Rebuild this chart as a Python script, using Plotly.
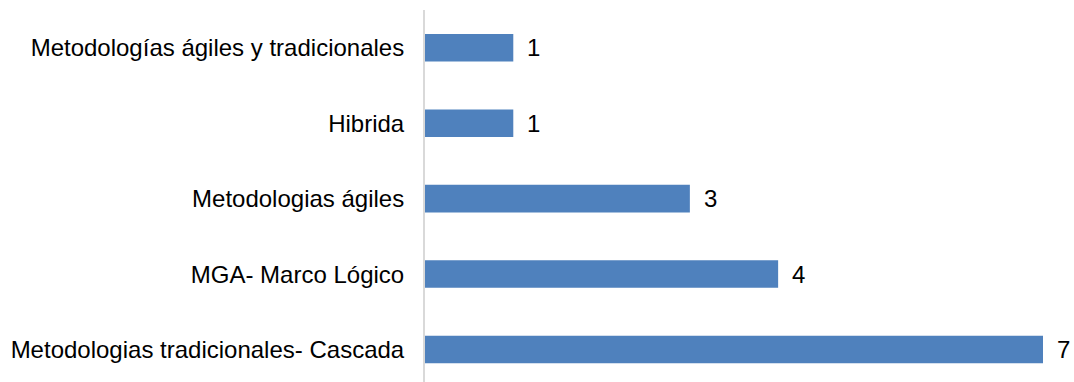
import plotly.graph_objects as go

categories = [
    "Metodologías ágiles y tradicionales",
    "Hibrida",
    "Metodologias ágiles",
    "MGA- Marco Lógico",
    "Metodologias tradicionales- Cascada",
]
counts = [1, 1, 3, 4, 7]

bar_color = "#4F81BD"
font_family = "Liberation Sans, Arial, sans-serif"
font_size = 24

fig = go.Figure(
    go.Bar(
        x=counts,
        y=categories,
        orientation="h",
        marker=dict(color=bar_color, line=dict(width=0)),
        width=0.365,
        hoverinfo="skip",
    )
)

# value labels to the right of each bar
for cat, val in zip(categories, counts):
    fig.add_annotation(
        x=val, y=cat, text=str(val), showarrow=False,
        xanchor="left", yanchor="middle", xshift=12,
        font=dict(family=font_family, size=font_size, color="#000000"),
    )

fig.update_layout(
    width=1074, height=382,
    margin=dict(l=425, r=31, t=10, b=0),
    paper_bgcolor="white", plot_bgcolor="white",
    showlegend=False,
    font=dict(family=font_family, size=font_size, color="#000000"),
    xaxis=dict(
        range=[0, 7], showgrid=False, zeroline=False,
        showticklabels=False, showline=False, ticks="",
    ),
    yaxis=dict(
        type="category", range=[4.43, -0.5], showgrid=False, zeroline=False,
        showline=True, linecolor="#D9D9D9", linewidth=2, ticks="",
        ticklabelstandoff=14,
        tickfont=dict(family=font_family, size=font_size, color="#000000"),
    ),
)

fig.write_html("out.html")
